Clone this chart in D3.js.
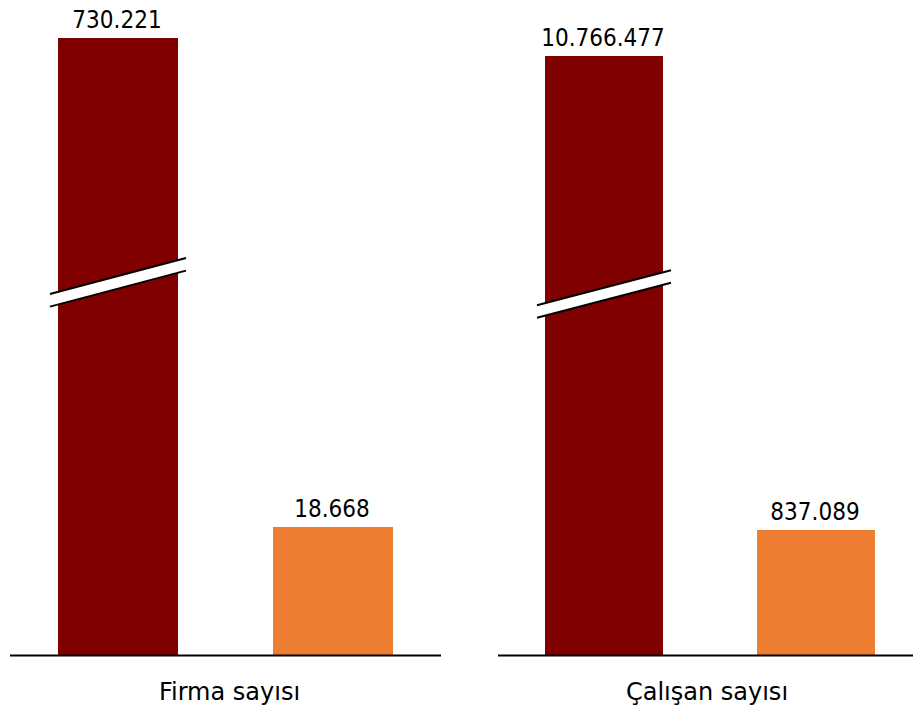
<!DOCTYPE html>
<html>
<head>
<meta charset="utf-8">
<script src="https://cdn.jsdelivr.net/npm/d3@7"></script>
<style>
  html, body { margin: 0; padding: 0; background: #fff; }
  svg { display: block; }
  text { fill: #000; }
  .val { font-family: "DejaVu Sans Condensed", "Noto Sans", "DejaVu Sans", sans-serif; }
  .cat { font-family: "DejaVu Sans", "Noto Sans", sans-serif; }
</style>
</head>
<body>
<svg id="chart" width="913" height="709"></svg>
<script>
// ---- data ----
const panels = ["Firma sayısı", "Çalışan sayısı"];
const seriesCategories = ["Toplam", "Grup"];
const firmaValues = [730221, 18668];
const calisanValues = [10766477, 837089];
const firmaLabels = ["730.221", "18.668"];
const calisanLabels = ["10.766.477", "837.089"];
// axis-break values (value where the break band sits, and where the broken part resumes)
const firmaBreak = [54356, 650000];
const calisanBreak = [2417500, 9600000];

const colors = ["#800000", "#ED7D31"];

const svg = d3.select("#chart");
const baseY = 655;

const config = [
  { name: panels[0], values: firmaValues, labels: firmaLabels, brk: firmaBreak,
    x0: 10, x1: 441, lineX1: 441, pi: 0.4419, po: 0.2233, topY: 38, lowY: 527, rise: 36, off: 4 },
  { name: panels[1], values: calisanValues, labels: calisanLabels, brk: calisanBreak,
    x0: 498, x1: 922, lineX1: 913, pi: 0.4434, po: 0.2217, topY: 56, lowY: 530, rise: 35, off: -3 }
];

config.forEach((p) => {
  const g = svg.append("g");
  const x = d3.scaleBand().domain(seriesCategories).range([p.x0, p.x1])
    .paddingInner(p.pi).paddingOuter(p.po);

  // piecewise (broken) y scale: lower part true to scale
  const k = (baseY - p.lowY) / p.values[1];
  const yLowBreak = baseY - p.brk[0] * k;
  const y = d3.scaleLinear()
    .domain([0, p.brk[0], p.brk[1], p.values[0]])
    .range([baseY, yLowBreak, yLowBreak, p.topY]);

  seriesCategories.forEach((c, i) => {
    const v = p.values[i];
    g.append("rect")
      .attr("x", x(c)).attr("width", x.bandwidth())
      .attr("y", y(v)).attr("height", baseY - y(v))
      .attr("fill", colors[i]);
    g.append("text")
      .attr("class", "val")
      .attr("x", x(c) + x.bandwidth() / 2 - 1)
      .attr("y", y(v) - 10.5)
      .attr("text-anchor", "middle")
      .attr("font-size", 24)
      .text(p.labels[i]);
  });

  // break band on the large bar
  const c0 = seriesCategories[0];
  const bx0 = x(c0) - 8, bx1 = x(c0) + x.bandwidth() + 8;
  const cy = y(p.brk[0]);
  const half = 6.3;
  const r = p.rise / 2;
  const topL = [bx0, cy - half + r], topR = [bx1, cy - half - r];
  const botL = [bx0, cy + half + r], botR = [bx1, cy + half - r];
  g.append("polygon")
    .attr("points", [topL, topR, botR, botL].map(d => d.join(",")).join(" "))
    .attr("fill", "#fff");
  [[topL, topR], [botL, botR]].forEach(seg => {
    g.append("line")
      .attr("x1", seg[0][0]).attr("y1", seg[0][1])
      .attr("x2", seg[1][0]).attr("y2", seg[1][1])
      .attr("stroke", "#000").attr("stroke-width", 2);
  });

  // baseline
  g.append("line")
    .attr("x1", p.x0).attr("x2", p.lineX1)
    .attr("y1", baseY + 0.5).attr("y2", baseY + 0.5)
    .attr("stroke", "#000").attr("stroke-width", 2);

  // category label
  const mid = (x(seriesCategories[0]) + x(seriesCategories[1]) + x.bandwidth()) / 2;
  g.append("text")
    .attr("class", "cat")
    .attr("x", mid + p.off)
    .attr("y", 700)
    .attr("text-anchor", "middle")
    .attr("font-size", 24)
    .text(p.name);
});
</script>
</body>
</html>
